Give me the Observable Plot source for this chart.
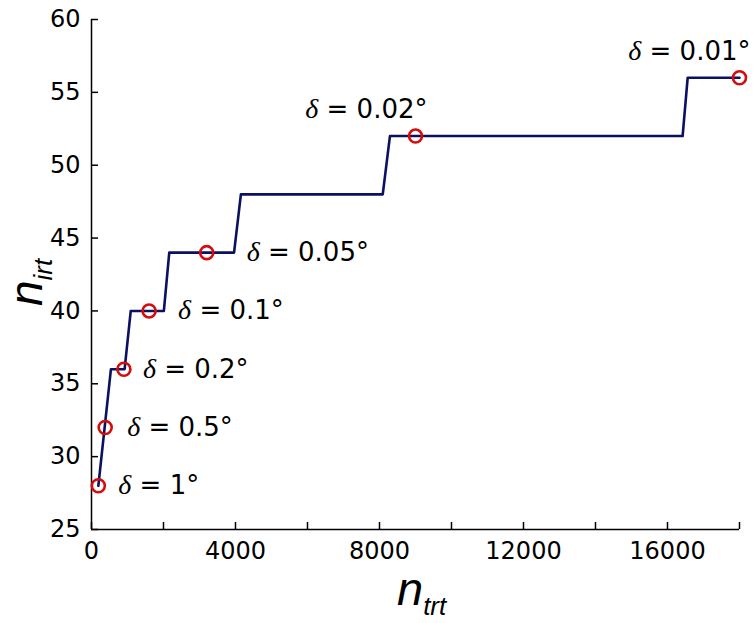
<!DOCTYPE html>
<html><head><meta charset="utf-8">
<script src="https://cdn.jsdelivr.net/npm/d3@7"></script>
<script src="https://cdn.jsdelivr.net/npm/@observablehq/plot@0.6"></script>
<style>body{margin:0;background:#fff}</style>
</head><body><div id="chart"></div>
<script>
// step curve n_irt vs n_trt
const stepX = [190, 540, 920, 1090, 2010, 2160, 3960, 4150, 8090, 8290, 16420, 16560, 18000];
const stepY = [28, 36, 36, 40, 40, 44, 44, 48, 48, 52, 52, 56, 56];
// marked points and their labels
const markX = [190, 380, 900, 1600, 3200, 9000, 18000];
const markY = [28, 32, 36, 40, 44, 52, 56];
const markLabels = ["δ = 1°", "δ = 0.5°", "δ = 0.2°", "δ = 0.1°", "δ = 0.05°", "δ = 0.02°", "δ = 0.01°"];
// axes
const xTicks = [0, 2000, 4000, 6000, 8000, 10000, 12000, 14000, 16000, 18000];
const xTickLabels = ["0", "", "4000", "", "8000", "", "12000", "", "16000", ""];
const yTicks = [25, 30, 35, 40, 45, 50, 55, 60];
const yTickLabels = ["25", "30", "35", "40", "45", "50", "55", "60"];

const steps = stepX.map((x, i) => ({x, y: stepY[i]}));
const marks = markX.map((x, i) => ({x, y: markY[i], label: markLabels[i]}));

// label placement relative to each marker (layout, not data)
const labelLayout = [
  {dx: 20, dy: 0, anchor: "start"},
  {dx: 22, dy: 0, anchor: "start"},
  {dx: 19, dy: 0, anchor: "start"},
  {dx: 29, dy: 0, anchor: "start"},
  {dx: 40, dy: 0, anchor: "start"},
  {dx: 12, dy: -26, anchor: "end"},
  {dx: 11, dy: -26, anchor: "end"}
];

const navy = "#0b1060";
const red = "#d40c0c";

const plot = Plot.plot({
  width: 756,
  height: 623,
  marginLeft: 91,
  marginRight: 17,
  marginTop: 19,
  marginBottom: 94,
  style: {fontFamily: "DejaVu Sans", fontSize: "24px", background: "#fff", color: "#000", overflow: "visible"},
  x: {domain: [0, 18000]},
  y: {domain: [25, 60]},
  marks: [
    Plot.axisX({ticks: xTicks, tickFormat: (d) => xTickLabels[xTicks.indexOf(d)], tickSize: -7, tickPadding: 19, label: null, stroke: "#000", strokeWidth: 1.5, fontSize: 24}),
    Plot.axisY({ticks: yTicks, tickFormat: (d) => yTickLabels[yTicks.indexOf(d)], tickSize: -7, tickPadding: 18, label: null, stroke: "#000", strokeWidth: 1.5, fontSize: 24}),
    Plot.ruleX([0], {stroke: "#000", strokeWidth: 1.5}),
    Plot.ruleY([25], {stroke: "#000", strokeWidth: 1.5}),
    Plot.line(steps, {x: "x", y: "y", stroke: navy, strokeWidth: 2.6, curve: "linear"}),
    Plot.dot(marks, {x: "x", y: "y", r: 6.5, stroke: red, strokeWidth: 2.6, fill: "none"}),
    ...marks.map((m, i) => Plot.text([m], {
      x: "x", y: "y", text: "label",
      dx: labelLayout[i].dx, dy: labelLayout[i].dy,
      textAnchor: labelLayout[i].anchor, lineAnchor: "middle",
      fontSize: 26, fill: "#000"
    }))
  ]
});

// italic serif delta inside labels
d3.select(plot).selectAll("text").each(function () {
  const t = d3.select(this);
  const s = t.text();
  if (!s.startsWith("δ")) return;
  t.text(null);
  t.append("tspan").attr("font-family", "Liberation Serif").attr("font-style", "italic").attr("font-size", 28).text("δ");
  t.append("tspan").text(s.slice(1));
});

// axis titles
const svg = d3.select(plot);
const xt = svg.append("text").attr("x", 397).attr("y", 605).attr("text-anchor", "start").attr("font-family", "Liberation Sans").attr("font-style", "italic").attr("fill", "#000");
xt.append("tspan").attr("font-size", 47).text("n");
xt.append("tspan").attr("font-size", 26).attr("dy", 10).text("trt");
const yt = svg.append("text").attr("transform", "translate(42,306) rotate(-90)").attr("text-anchor", "start").attr("font-family", "Liberation Sans").attr("font-style", "italic").attr("fill", "#000");
yt.append("tspan").attr("font-size", 46).text("n");
yt.append("tspan").attr("font-size", 26).attr("dy", 10).text("irt");

document.getElementById("chart").append(plot);
</script>
</body></html>
